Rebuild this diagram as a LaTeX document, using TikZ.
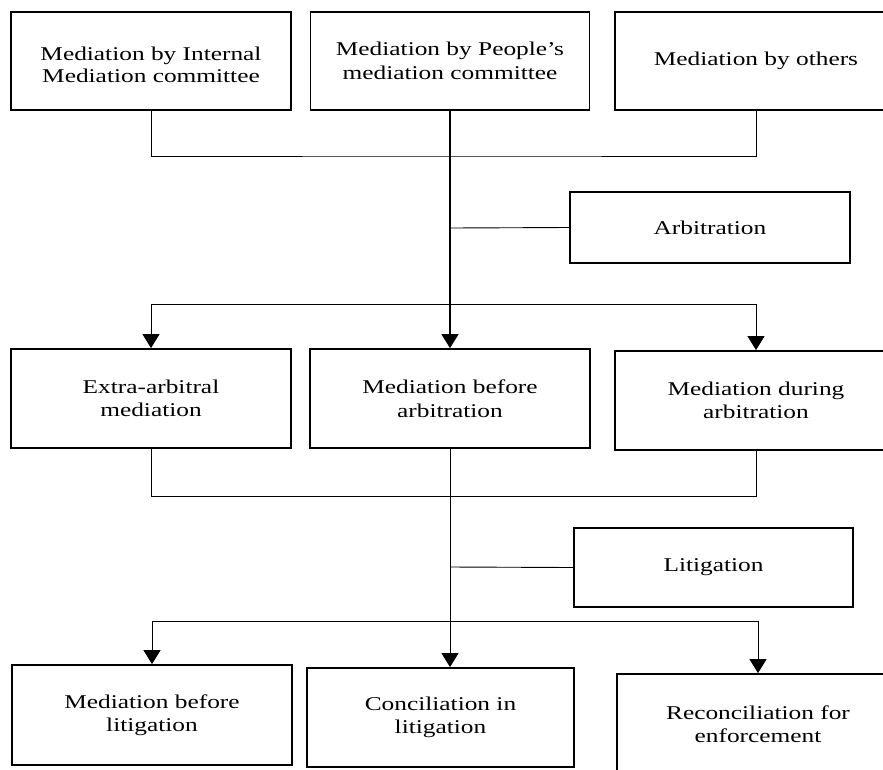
\documentclass[tikz,border=0pt]{standalone}
\usepackage{fontspec}
\setmainfont{Liberation Serif}[FakeStretch=1.3]
\usetikzlibrary{arrows.meta}
\begin{document}
\begin{tikzpicture}[x=1pt,y=-1pt,
  box/.style={draw,line width=1.8pt,inner sep=0pt,align=center,
    font=\fontsize{19.5}{23.5}\selectfont},
  thin/.style={line width=0.9pt},
  thick/.style={line width=1.8pt},
  arr/.style={-{Triangle[width=17pt,length=14pt]}}]
\useasboundingbox (0,0) rectangle (883,769);
% row 1
\node[box,minimum width=280,minimum height=98] (b1) at (151,61) {\raisebox{-6pt}[\height][\depth]{\begin{tabular}{@{}c@{}}Mediation by Internal\\[-1.5pt]Mediation committee\end{tabular}}};
\node[box,minimum width=279,minimum height=98] (b2) at (450,61) {Mediation by People’s\\mediation committee};
\node[box,minimum width=282,minimum height=98] (b3) at (756,61) {Mediation by others};
\node[box,minimum width=280,minimum height=71] (arb) at (710,227.5) {Arbitration};
% row 2
\node[box,minimum width=280,minimum height=99] (b4) at (151,398.5) {Extra-arbitral\\mediation};
\node[box,minimum width=280,minimum height=99] (b5) at (450,398.5) {Mediation before\\arbitration};
\node[box,minimum width=282,minimum height=99] (b6) at (756,400.5) {Mediation during\\arbitration};
\node[box,minimum width=279,minimum height=79] (lit) at (713.5,567.5) {Litigation};
% row 3
\node[box,minimum width=280,minimum height=100] (b7) at (152,715) {Mediation before\\litigation};
\node[box,minimum width=267,minimum height=99] (b8) at (440.5,717.5) {Conciliation in\\litigation};
\node[box,minimum width=282,minimum height=100] (b9) at (758,724) {Reconciliation for\\enforcement};
% junction coordinates
\coordinate (j1) at (450,156);
\coordinate (ja) at (450,228);
\coordinate (j2) at (450,304);
\coordinate (j3) at (450,496);
\coordinate (jl) at (450,567);
\coordinate (j4) at (450,621);
% connectors
\draw[thin] (b1.south) |- (j1) -| (b3.south);
\draw[thick,arr] (b2.south) -- (b5.north);
\draw[thin] (ja) -- (arb.west);
\draw[thin,arr] (j2) -| (b4.north);
\draw[thin,arr] (j2) -| (b6.north);
\draw[thin] (b4.south) |- (j3) -| (b6.south);
\draw[thin,arr] (b5.south) -- (j4 |- b8.north);
\draw[thin] (jl) -- (lit.west);
\draw[thin,arr] (j4) -| (b7.north);
\draw[thin,arr] (j4) -| (b9.north);
\end{tikzpicture}
\end{document}
